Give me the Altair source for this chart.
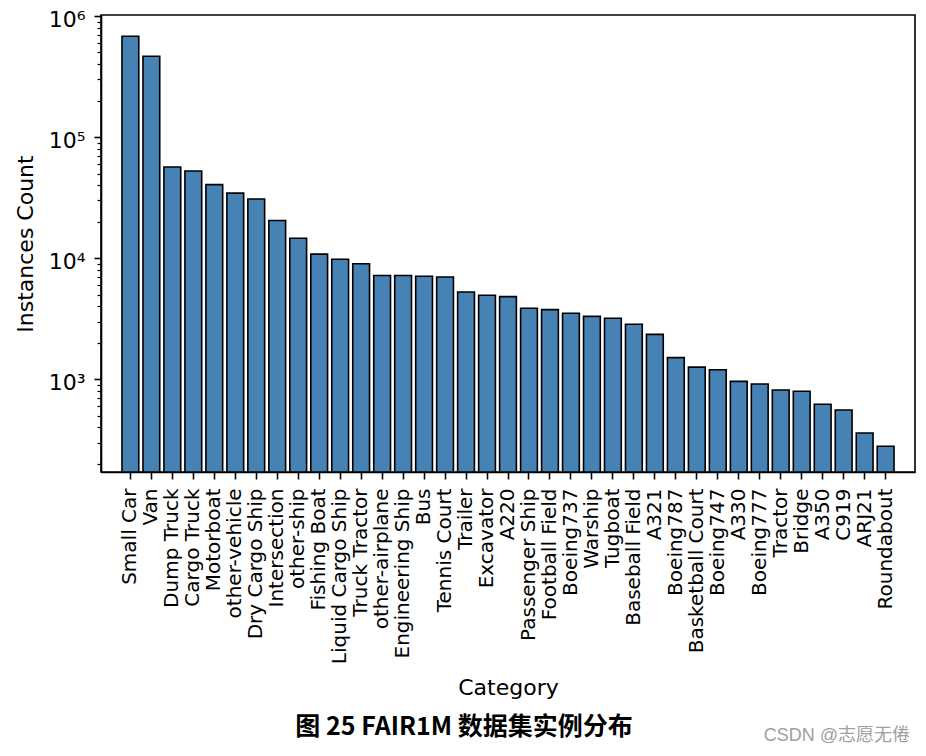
import altair as alt
import pandas as pd

categories = ["Small Car", "Van", "Dump Truck", "Cargo Truck", "Motorboat", "other-vehicle",
              "Dry Cargo Ship", "Intersection", "other-ship", "Fishing Boat", "Liquid Cargo Ship",
              "Truck Tractor", "other-airplane", "Engineering Ship", "Bus", "Tennis Court", "Trailer",
              "Excavator", "A220", "Passenger Ship", "Football Field", "Boeing737", "Warship",
              "Tugboat", "Baseball Field", "A321", "Boeing787", "Basketball Court", "Boeing747",
              "A330", "Boeing777", "Tractor", "Bridge", "A350", "C919", "ARJ21", "Roundabout"]
counts = [680000, 465000, 56600, 52500, 40500, 34500, 30800, 20500, 14600, 10800, 9800, 9000,
          7200, 7200, 7100, 7000, 5260, 4940, 4820, 3860, 3760, 3510, 3310, 3190, 2850, 2350,
          1510, 1260, 1200, 962, 915, 816, 796, 622, 558, 360, 280]

major_ticks = [1000, 10000, 100000, 1000000]
major_labels = ["10³", "10⁴", "10⁵", "10⁶"]
minor_ticks = [m * 10 ** k for k in (2, 3, 4, 5) for m in range(2, 10)]
y_domain = [171.6, 1.02e6]

caption_text = "图 25 FAIR1M 数据集实例分布"
watermark_text = "CSDN @志愿无倦"

W, H = 814, 457

df = pd.DataFrame({"Category": categories, "Count": counts})

label_expr = ""
for v, lab in zip(major_ticks, major_labels):
    label_expr += f"datum.value == {v} ? '{lab}' : "
label_expr += "''"

y_scale = alt.Scale(type="log", domain=y_domain, nice=False)

bars = alt.Chart(df).mark_bar(color="#4682b4", stroke="black", strokeWidth=1.6).encode(
    x=alt.X("Category:N", sort=categories,
            scale=alt.Scale(paddingInner=0.2, paddingOuter={"expr": "1.84"}),
            axis=alt.Axis(title="Category", labelAngle=270, labelFontSize=20,
                          labelOverlap=False, labelLimit=400, labelPadding=9,
                          ticks=True, tickSize=7, tickWidth=1.6,
                          titleFontSize=22, titleX=W / 2, titleY=222,
                          titleBaseline="alphabetic", titleAlign="center")),
    y=alt.Y("Count:Q", scale=y_scale,
            axis=alt.Axis(title="Instances Count", orient="left", values=major_ticks,
                          labelExpr=label_expr, labelFontSize=22, labelPadding=9,
                          labelOffset=3, ticks=True, tickSize=7, tickWidth=1.6,
                          titleFontSize=22, titleAngle=270, titleX=-69, titleY=H / 2,
                          titleBaseline="alphabetic", titleAlign="center")),
    y2=alt.Y2Datum(y_domain[0]),
)

minor = alt.Chart(df).mark_point(opacity=0).encode(
    y=alt.Y("Count:Q", scale=y_scale,
            axis=alt.Axis(title=None, orient="left", values=minor_ticks, labels=False,
                          domain=False, ticks=True, tickSize=4, tickWidth=1.2)),
)

caption = alt.Chart(pd.DataFrame({"t": [caption_text]})).mark_text(
    font="Noto Sans CJK SC", fontWeight="bold", fontSize=25, align="center",
    baseline="middle", color="black"
).encode(text="t:N", x=alt.value(363), y=alt.value(712))

watermark = alt.Chart(pd.DataFrame({"t": [watermark_text]})).mark_text(
    font="Liberation Sans, Noto Sans CJK SC", fontSize=18, align="right",
    baseline="middle", color="#a0a0a0"
).encode(text="t:N", x=alt.value(809), y=alt.value(721))

chart = alt.layer(bars, minor, caption, watermark).resolve_axis(y="independent").properties(
    width=W, height=H,
    autosize=alt.AutoSizeParams(type="none"),
    padding={"left": 93, "top": 7, "right": 3, "bottom": 282},
).configure_view(stroke="black", strokeWidth=1.6).configure_axis(
    labelFont="DejaVu Sans", titleFont="DejaVu Sans", labelColor="black",
    titleColor="black", titleFontWeight="normal", domainColor="black",
    domainWidth=1.6, tickColor="black", grid=False
)

chart.save("out.html", embed_options={"renderer": "svg", "actions": False})
